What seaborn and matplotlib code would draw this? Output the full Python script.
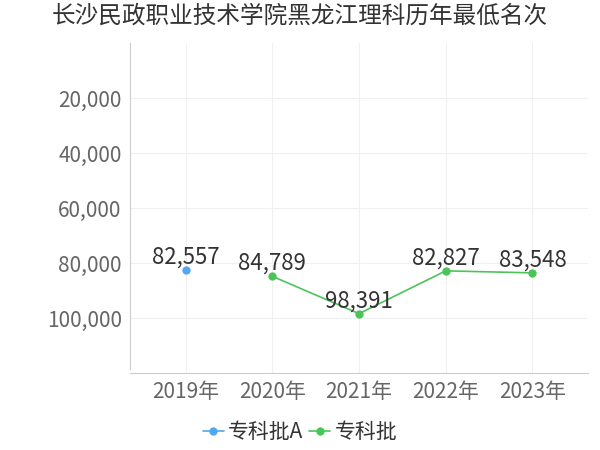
import pandas as pd
import matplotlib.pyplot as plt
import seaborn as sns

years = ['2019年', '2020年', '2021年', '2022年', '2023年']
series_a_years = ['2019年']
series_a_values = [82557]
series_b_years = ['2020年', '2021年', '2022年', '2023年']
series_b_values = [84789, 98391, 82827, 83548]
series_names = ['专科批A', '专科批']
colors = ['#4ea9f4', '#4cc45a']


def main():
    sns.set_style('white')
    plt.rcParams['font.family'] = ['Noto Sans CJK SC', 'DejaVu Sans']

    df = pd.concat([
        pd.DataFrame({'year': series_a_years, 'rank': series_a_values, 'batch': series_names[0]}),
        pd.DataFrame({'year': series_b_years, 'rank': series_b_values, 'batch': series_names[1]}),
    ])
    df['x'] = df['year'].map({y: i for i, y in enumerate(years)})

    fig = plt.figure(figsize=(6, 4.5), dpi=100)
    ax = fig.add_axes([0.2167, 0.171, 0.7633, 0.733])

    sns.lineplot(data=df, x='x', y='rank', hue='batch', palette=colors,
                 marker='o', markersize=6, markeredgewidth=0, linewidth=1.2, ax=ax)

    for _, row in df.iterrows():
        ax.annotate(f"{row['rank']:,}", (row['x'], row['rank']), xytext=(0, 1),
                    textcoords='offset points', ha='center', va='bottom',
                    fontsize=16, color='#333333')

    ax.set_xlim(-0.64, 4.64)
    ax.set_ylim(120000, 0)
    ax.set_xticks(range(len(years)))
    ax.set_xticklabels(years)
    ax.set_yticks([20000, 40000, 60000, 80000, 100000])
    ax.set_yticklabels([f'{v:,}' for v in [20000, 40000, 60000, 80000, 100000]])
    ax.tick_params(axis='both', labelsize=15, colors='#666666')
    ax.tick_params(axis='y', length=0, pad=6)
    ax.tick_params(axis='x', length=4, color='#cccccc', pad=2)
    ax.set_xlabel('')
    ax.set_ylabel('')
    ax.grid(True, color='#f0f0f0', linewidth=0.8)

    for s in ['top', 'right']:
        ax.spines[s].set_visible(False)
    ax.spines['left'].set_color('#cccccc')
    ax.spines['bottom'].set_color('#cccccc')
    ax.spines['left'].set_bounds(118500, 0)

    ax.legend(loc='center', bbox_to_anchor=(0.371, -0.18), ncol=2, frameon=False,
              fontsize=15, handlelength=1.0, handletextpad=0.2, columnspacing=0.3,
              labelcolor='#333333')

    fig.suptitle('长沙民政职业技术学院黑龙江理科历年最低名次', x=0.5, y=0.99,
                 fontsize=17, color='#333333')

    plt.savefig('out.png', dpi=100)
    plt.close()


if __name__ == "__main__":
    main()
